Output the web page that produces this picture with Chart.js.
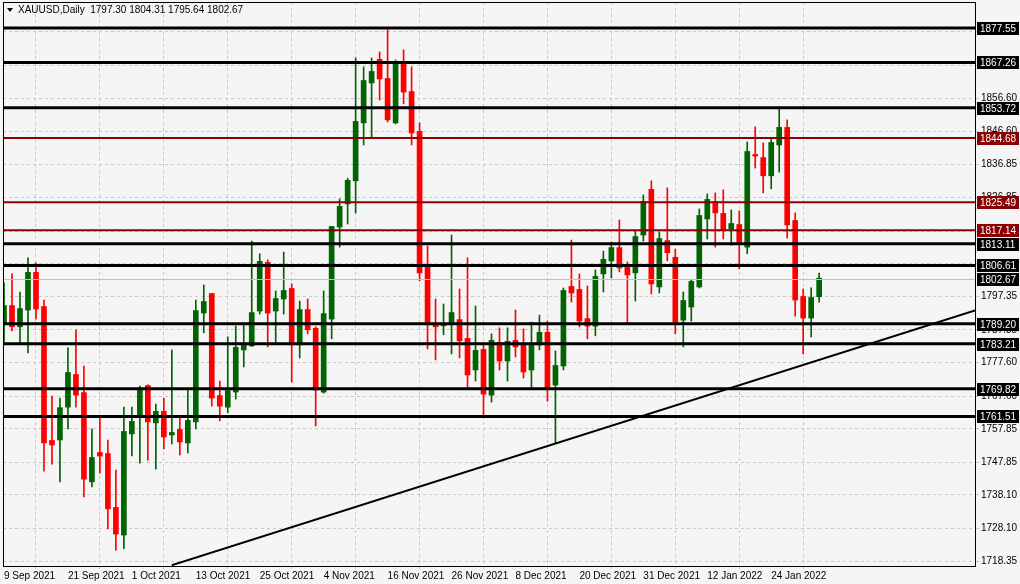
<!DOCTYPE html>
<html>
<head>
<meta charset="utf-8">
<script src="https://cdn.jsdelivr.net/npm/chart.js@4.4.0/dist/chart.umd.min.js"></script>
<style>
  html, body { margin: 0; padding: 0; background: #f5f5f5; }
  #wrap { width: 1020px; height: 584px; }
</style>
</head>
<body>
<div id="wrap"><canvas id="chart"></canvas></div>
<script>
// daily candles, 9 Sep 2021 .. 31 Jan 2022
const opens = [1789.1,1794.5,1788.3,1793.3,1804.4,1794.2,1754.2,1754.5,1764.3,1773.9,
  1768.5,1742.0,1750.6,1750.3,1734.2,1726.1,1756.3,1761.7,1770.6,1759.6,
  1762.9,1756.0,1757.5,1753.6,1759.9,1792.4,1798.1,1767.6,1764.3,1768.8,
  1781.4,1782.6,1793.0,1807.4,1793.0,1796.6,1799.6,1782.9,1793.3,1787.7,
  1768.8,1790.6,1818.1,1825.0,1831.9,1849.2,1861.1,1868.0,1862.3,1849.2,
  1867.4,1858.4,1846.5,1806.5,1788.9,1788.6,1789.4,1790.3,1784.7,1775.4,
  1781.4,1767.9,1783.5,1778.1,1784.1,1782.9,1775.4,1782.9,1786.5,1770.9,
  1776.6,1800.2,1799.3,1790.6,1788.5,1804.1,1808.0,1811.8,1805.9,1804.4,
  1815.7,1829.2,1800.2,1813.9,1808.9,1790.3,1794.2,1800.2,1820.5,1825.6,
  1822.0,1817.5,1818.7,1812.1,1839.6,1838.7,1833.4,1842.6,1847.7,1819.9,
  1797.2,1790.9,1797.30];
const highs = [1801.4,1804.1,1798.7,1808.9,1807.4,1796.3,1767.6,1767.0,1782.0,1787.4,
  1776.6,1757.8,1761.1,1754.5,1745.5,1764.3,1764.3,1770.6,1771.0,1765.2,
  1767.0,1781.4,1761.1,1769.4,1796.3,1800.8,1798.3,1772.1,1785.3,1788.5,
  1789.4,1813.9,1810.1,1808.3,1799.0,1810.6,1801.1,1796.0,1796.6,1788.3,
  1799.0,1818.3,1826.5,1832.7,1868.6,1865.9,1868.6,1870.4,1877.0,1868.0,
  1871.0,1865.9,1849.2,1812.4,1796.6,1795.1,1815.7,1799.6,1808.9,1794.5,
  1783.5,1786.2,1788.0,1788.0,1793.3,1787.7,1789.7,1791.8,1790.0,1781.1,
  1799.9,1814.2,1804.1,1800.5,1805.3,1810.9,1813.6,1820.2,1807.7,1816.9,
  1827.7,1831.9,1816.6,1829.8,1811.5,1798.7,1802.3,1823.5,1828.0,1828.3,
  1829.2,1823.2,1822.9,1843.5,1848.0,1843.2,1844.4,1853.9,1850.1,1822.3,
  1799.6,1799.9,1804.31];
const lows = [1783.8,1787.1,1783.5,1780.5,1790.6,1745.2,1747.3,1742.0,1757.8,1764.3,
  1737.5,1740.5,1744.6,1727.9,1721.6,1722.0,1749.7,1747.6,1748.5,1745.8,
  1751.8,1753.3,1750.0,1750.6,1757.8,1786.5,1764.6,1760.2,1762.6,1766.7,
  1776.3,1782.4,1792.1,1782.3,1783.2,1792.1,1771.8,1779.0,1786.2,1758.7,
  1768.5,1784.7,1812.1,1819.0,1822.3,1842.6,1845.0,1856.0,1849.5,1848.9,
  1854.9,1842.6,1802.0,1781.7,1778.4,1785.9,1780.2,1779.0,1769.7,1772.1,
  1761.7,1765.8,1775.4,1772.1,1779.3,1773.0,1770.0,1781.4,1766.1,1753.6,
  1775.4,1795.7,1788.3,1784.7,1785.6,1798.7,1802.9,1804.7,1789.1,1796.0,
  1813.9,1798.1,1798.4,1808.0,1786.2,1782.3,1790.0,1799.9,1814.5,1812.1,
  1814.5,1812.7,1805.6,1810.1,1835.7,1828.3,1829.5,1834.5,1814.8,1791.5,
  1780.2,1785.3,1795.64];
const closes = [1794.5,1788.3,1793.6,1804.4,1793.6,1753.6,1753.0,1764.0,1774.5,1767.9,
  1742.8,1749.1,1749.7,1733.9,1726.4,1756.9,1759.9,1769.7,1759.9,1762.9,
  1755.4,1756.6,1753.9,1760.2,1793.0,1795.7,1767.0,1764.6,1769.1,1782.0,
  1782.9,1792.4,1807.7,1792.4,1796.6,1799.0,1782.9,1793.3,1787.4,1769.4,
  1792.1,1818.1,1824.1,1831.9,1849.5,1861.7,1864.4,1862.3,1850.1,1867.4,
  1858.4,1846.2,1804.4,1788.9,1788.3,1789.1,1792.4,1784.1,1773.9,1781.1,
  1768.2,1784.1,1778.1,1783.8,1782.3,1774.8,1782.6,1786.5,1770.0,1776.6,
  1799.0,1798.4,1790.0,1788.5,1803.2,1808.3,1811.8,1805.9,1803.8,1815.1,
  1825.6,1801.1,1814.5,1810.4,1789.7,1796.0,1801.7,1821.4,1826.2,1822.3,
  1817.2,1819.0,1813.6,1840.5,1839.3,1833.4,1843.2,1847.7,1818.7,1796.3,
  1790.9,1796.9,1802.67];

const dateTicks = [0, 8, 16, 24, 32, 40, 48, 56, 64, 72, 80, 88, 96];
const dateLabels = ["9 Sep 2021", "21 Sep 2021", "1 Oct 2021", "13 Oct 2021", "25 Oct 2021",
  "4 Nov 2021", "16 Nov 2021", "26 Nov 2021", "8 Dec 2021", "20 Dec 2021",
  "31 Dec 2021", "12 Jan 2022", "24 Jan 2022"];
const priceTicks = [1718.35, 1728.10, 1738.10, 1747.85, 1757.85, 1767.60, 1777.60, 1787.35,
  1797.35, 1807.10, 1816.85, 1826.85, 1836.85, 1846.60, 1856.60, 1866.35, 1876.35];

const blackLevels = [1877.55, 1867.26, 1853.72, 1813.11, 1806.61, 1789.20, 1783.21, 1769.82, 1761.51];
const redLevels = [1844.68, 1825.49, 1817.14];
const lastPrice = 1802.67;
const trendX = [21, 121.5];
const trendY = [1717.1, 1793.2];

const UP = "#006400", DOWN = "#ff0000";
const idx = opens.map((_, i) => i);
const colors = idx.map(i => closes[i] >= opens[i] ? UP : DOWN);

const levelsPlugin = {
  id: "levels",
  beforeDraw(chart) {
    const c = chart.ctx;
    c.save();
    c.fillStyle = "#f5f5f5";
    c.fillRect(0, 0, chart.width, chart.height);
    c.restore();
  },
  afterDatasetsDraw(chart) {
    const c = chart.ctx, a = chart.chartArea, y = chart.scales.y;
    c.save();
    c.beginPath(); c.rect(a.left, a.top, a.right - a.left, a.bottom - a.top); c.clip();
    const py = Math.round(y.getPixelForValue(lastPrice)) + 0.5;
    c.strokeStyle = "#c0c0c0"; c.lineWidth = 1;
    c.beginPath(); c.moveTo(a.left, py); c.lineTo(a.right, py); c.stroke();
    blackLevels.forEach(v => {
      const p = y.getPixelForValue(v);
      c.strokeStyle = "#000"; c.lineWidth = 3;
      c.beginPath(); c.moveTo(a.left, p); c.lineTo(a.right, p); c.stroke();
    });
    redLevels.forEach(v => {
      const p = y.getPixelForValue(v);
      c.strokeStyle = "#8b0000"; c.lineWidth = 2;
      c.beginPath(); c.moveTo(a.left, p); c.lineTo(a.right, p); c.stroke();
    });
    c.restore();
  },
  afterDraw(chart) {
    const c = chart.ctx, a = chart.chartArea, y = chart.scales.y;
    c.save();
    c.strokeStyle = "#000"; c.lineWidth = 1;
    c.strokeRect(a.left + 0.5, a.top + 0.5, a.right - a.left, a.bottom - a.top);
    c.font = "10px 'Liberation Sans', Arial, sans-serif";
    c.textBaseline = "middle"; c.textAlign = "left";
    const box = (v, bg) => {
      const p = Math.round(y.getPixelForValue(v));
      c.fillStyle = bg;
      c.fillRect(a.right + 2, p - 6, 42, 13);
      c.fillStyle = "#fff";
      c.fillText(v.toFixed(2), a.right + 5, p + 1);
    };
    blackLevels.forEach(v => box(v, "#000"));
    redLevels.forEach(v => box(v, "#8b0000"));
    box(lastPrice, "#000");
    // header
    c.fillStyle = "#000";
    c.beginPath(); c.moveTo(7, 8); c.lineTo(13, 8); c.lineTo(10, 12); c.closePath(); c.fill();
    c.fillText("XAUUSD,Daily  1797.30 1804.31 1795.64 1802.67", 18, 10);
    c.restore();
  }
};

new Chart(document.getElementById("chart"), {
  type: "bar",
  data: {
    datasets: [
      {
        type: "line",
        data: trendX.map((x, i) => ({ x: x, y: trendY[i] })),
        borderColor: "#000", borderWidth: 2, pointRadius: 0, order: 0
      },
      {
        data: idx.map(i => ({ x: i, y: [Math.min(opens[i], closes[i]), Math.max(opens[i], closes[i]) + 0.15] })),
        backgroundColor: colors, barThickness: 5, grouped: false, order: 1
      },
      {
        data: idx.map(i => ({ x: i, y: [lows[i], highs[i]] })),
        backgroundColor: colors, barThickness: 1, grouped: false, order: 2
      }
    ]
  },
  plugins: [levelsPlugin],
  options: {
    responsive: true,
    maintainAspectRatio: false,
    animation: false,
    layout: { padding: { top: 2, left: 3, right: 0, bottom: 0 } },
    plugins: { legend: { display: false }, tooltip: { enabled: false } },
    scales: {
      x: {
        type: "linear", min: -0.125, max: 121.5, offset: false,
        afterBuildTicks: s => { s.ticks = dateTicks.map(v => ({ value: v })); },
        afterFit: s => { s.height = 18; s.paddingLeft = 0; s.paddingRight = 0; },
        ticks: {
          callback: v => dateLabels[dateTicks.indexOf(v)],
          align: "start", maxRotation: 0, autoSkip: false, padding: 1,
          color: "#000", font: { family: "'Liberation Sans', Arial, sans-serif", size: 10 }
        },
        grid: { color: "#c8c8c8", tickLength: 3 },
        border: { display: false, dash: [3, 3] }
      },
      y: {
        position: "right", min: 1716.86, max: 1885.3,
        afterBuildTicks: s => { s.ticks = priceTicks.map(v => ({ value: v })); },
        afterFit: s => { s.width = 45; s.paddingTop = 0; s.paddingBottom = 0; },
        ticks: {
          callback: v => v.toFixed(2), padding: 2,
          color: "#000", font: { family: "'Liberation Sans', Arial, sans-serif", size: 10 }
        },
        grid: { color: "#c8c8c8", tickLength: 4 },
        border: { display: false, dash: [3, 3] }
      }
    }
  }
});
</script>
</body>
</html>
